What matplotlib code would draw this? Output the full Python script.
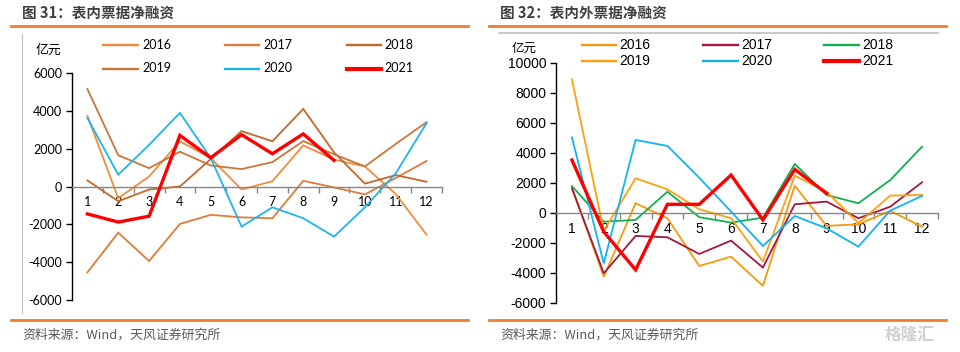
import matplotlib
matplotlib.use("Agg")
import matplotlib.pyplot as plt
from matplotlib.lines import Line2D
import numpy as np

plt.rcParams['font.family'] = ['Noto Sans CJK SC', 'DejaVu Sans']

months = list(range(1, 13))
month_labels = [str(m) for m in months]
years = ['2016', '2017', '2018', '2019', '2020', '2021']

# 图31 表内票据净融资 (亿元)
in_2016 = [3730, -620, 530, 2390, 1500, -160, 280, 2175, 1420, 1060, -400, -2550]
in_2017 = [-4540, -2440, -3940, -1980, -1500, -1630, -1680, 300, -50, -420, 450, 1350]
in_2018 = [320, -780, -160, 0, 1450, 2930, 2390, 4100, 1800, 150, 600, 250]
in_2019 = [5150, 1650, 970, 1840, 1110, 920, 1290, 2400, 1700, 1060, 2250, 3400]
in_2020 = [3620, 620, 2200, 3890, 1500, -2120, -1100, -1680, -2650, -1100, 700, 3350]
in_2021 = [-1450, -1880, -1570, 2700, 1520, 2740, 1730, 2780, 1380]

# 图32 表内外票据净融资 (亿元)
out_2016 = [1700, -4270, 630, -370, -3550, -2930, -4880, 1800, -880, -770, 120, -930]
out_2017 = [1620, -4040, -1550, -1640, -2750, -1860, -3660, 560, 740, -370, 400, 2030]
out_2018 = [1780, -600, -480, 1400, -300, -660, -330, 3250, 1180, 630, 2180, 4400]
out_2019 = [8890, -1210, 2290, 1560, 230, -370, -3260, 2470, 1400, -700, 1140, 1180]
out_2020 = [5020, -3380, 4850, 4450, 2330, 70, -2220, -220, -1040, -2260, 140, 1120]
out_2021 = [3510, -1270, -3810, 560, 560, 2510, -480, 2890, 1290]

left_series = [in_2016, in_2017, in_2018, in_2019, in_2020, in_2021]
right_series = [out_2016, out_2017, out_2018, out_2019, out_2020, out_2021]

left_colors = ['#F08C3E', '#E07B39', '#C0692A', '#C8773A', '#1CB5EE', '#FF0000']
right_colors = ['#F59A0C', '#A3183F', '#13AF4E', '#FFA010', '#12B3EE', '#FF0000']
left_lw = [1.3, 1.3, 1.3, 1.3, 1.3, 2.4]
right_lw = [1.3, 1.3, 1.3, 1.3, 1.3, 2.4]

W, H = 960, 352
fig = plt.figure(figsize=(W / 100, H / 100), dpi=100)

def fx(px):
    return px / W

def fy(py):
    return 1 - py / H

ORANGE = '#ED7D31'
TITLE_C = '#404040'
SRC_C = '#595959'

def frame(x0, x1, title, tx):
    fig.add_artist(Line2D([fx(x0), fx(x1)], [fy(26), fy(26)], color=ORANGE, lw=2.0,
                          transform=fig.transFigure))
    fig.add_artist(Line2D([fx(x0), fx(x1)], [fy(320), fy(320)], color=ORANGE, lw=2.0,
                          transform=fig.transFigure))
    fig.text(fx(tx), fy(13), title, fontsize=10.5, fontweight='bold', color=TITLE_C,
             va='center', ha='left')
    fig.text(fx(tx), fy(335), '资料来源：Wind，天风证券研究所', fontsize=9.3, color=SRC_C,
             va='center', ha='left')

frame(11, 468, '图 31：表内票据净融资', 22)
frame(489, 946, '图 32：表内外票据净融资', 500)

# decorative thin gray rules
fig.add_artist(Line2D([fx(22), fx(22)], [fy(34), fy(313)], color='#BFBFBF', lw=0.8,
                      transform=fig.transFigure))
fig.add_artist(Line2D([fx(499), fx(938)], [fy(33), fy(33)], color='#BFBFBF', lw=1.2,
                      transform=fig.transFigure))

def make_axes(x0, x1, ytop, ybot, ymin, ymax, step, series, colors, lws, tick_font, tick_size,
              label_off):
    ax = fig.add_axes([fx(x0), fy(ybot), fx(x1) - fx(x0), fy(ytop) - fy(ybot)])
    for vals, c, lw in zip(series, colors, lws):
        ax.plot(months[:len(vals)], vals, color=c, lw=lw, solid_joinstyle='miter',
                zorder=3 if lw > 2 else 2)
    ax.set_xlim(0.5, 12.5)
    ax.set_ylim(ymin, ymax)
    ax.set_yticks(np.arange(ymin, ymax + 1, step))
    ax.set_yticklabels([str(int(v)) for v in np.arange(ymin, ymax + 1, step)],
                       family=tick_font, fontsize=tick_size, color='#000000')
    ax.spines['top'].set_visible(False)
    ax.spines['right'].set_visible(False)
    ax.spines['left'].set_color('#000000')
    ax.spines['left'].set_linewidth(1.0)
    ax.spines['bottom'].set_position(('data', 0))
    ax.spines['bottom'].set_color('#868686')
    ax.spines['bottom'].set_linewidth(1.0)
    ax.tick_params(axis='y', direction='out', length=4, width=1.0, color='#000000', pad=3)
    ax.set_xticks(months)
    ax.set_xticklabels(month_labels, family=tick_font, fontsize=tick_size)
    ax.tick_params(axis='x', which='major', length=0, pad=label_off)
    ax.set_xticks(np.arange(0.5, 13.0, 1.0), minor=True)
    ax.tick_params(axis='x', which='minor', direction='out', length=4, width=1.0,
                   color='#868686')
    ax.patch.set_visible(False)
    return ax

axL = make_axes(72, 442, 73, 300, -6000, 6000, 2000, left_series, left_colors, left_lw,
                'Lato', 9.0, 7)
axR = make_axes(556, 938, 62.7, 302.7, -6000, 10000, 2000, right_series, right_colors,
                right_lw, 'Liberation Sans', 10.0, 7)

def legend(xs_line, xs_text, ys, colors, lws, font, size):
    k = 0
    for r, yy in enumerate(ys):
        for c in range(3):
            x0, x1 = xs_line[c]
            fig.add_artist(Line2D([fx(x0), fx(x1)], [fy(yy), fy(yy)], color=colors[k],
                                  lw=lws[k] + (0.4 if lws[k] < 2 else 0.6),
                                  transform=fig.transFigure))
            fig.text(fx(xs_text[c]), fy(yy), years[k], family=font, fontsize=size,
                     va='center', ha='left', color='#000000')
            k += 1

legend([(103, 138), (225, 259), (347, 381)], [142, 263, 384], [45, 68.5],
       left_colors, left_lw, 'Lato', 9.0)
legend([(582, 616), (703, 738), (824, 859)], [619, 741, 862], [45, 61],
       right_colors, right_lw, 'Liberation Sans', 10.0)

fig.text(fx(36), fy(50), '亿元', fontsize=9.3, va='center', ha='left', color='#000000')
fig.text(fx(512), fy(48), '亿元', fontsize=9.0, va='center', ha='left', color='#000000')

# watermark
fig.text(fx(935), fy(335), '格隆汇', fontsize=12, color='#D0D0D0', va='center', ha='right',
         fontweight='bold')

fig.savefig('out.png', dpi=100)
